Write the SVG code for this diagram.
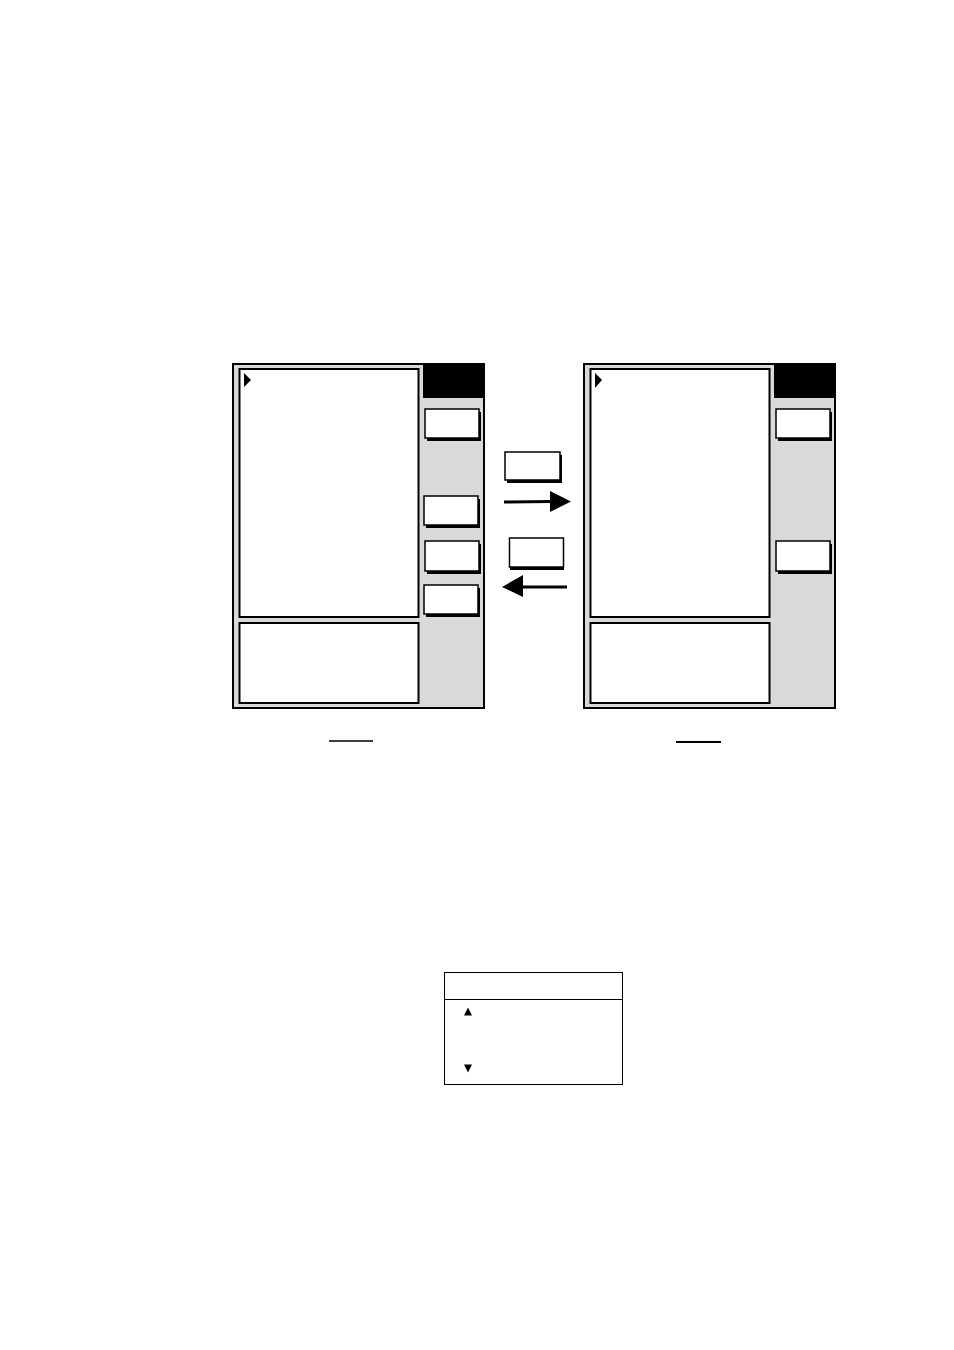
<svg xmlns="http://www.w3.org/2000/svg" width="954" height="1350" viewBox="0 0 954 1350">
<style>
.panel{fill:#d9d9d9;stroke:#000;stroke-width:2}
.win{fill:#fff;stroke:#000;stroke-width:2}
.btn{fill:#fff;stroke:#000;stroke-width:1.5}
.shadow{fill:#000}
.blk{fill:#000}
.line{stroke:#000;fill:none}
</style>
<rect width="954" height="1350" fill="#fff"/>
<g id="left-screen">
  <rect class="panel" x="233" y="364" width="251" height="344"/>
  <rect class="blk" x="423" y="364" width="61" height="34"/>
  <rect class="win" x="239.5" y="369" width="179" height="248"/>
  <rect class="win" x="239.5" y="623" width="179" height="80"/>
  <polygon class="blk" points="244,373 251,380 244,387"/>
  <g id="left-btn1"><rect class="shadow" x="427" y="412" width="54" height="29"/><rect class="btn" x="425" y="409" width="54" height="29"/></g>
  <g id="left-btn2"><rect class="shadow" x="426" y="499" width="54" height="29"/><rect class="btn" x="424" y="496" width="54" height="29"/></g>
  <g id="left-btn3"><rect class="shadow" x="427" y="544" width="54" height="30"/><rect class="btn" x="425" y="541" width="54" height="30"/></g>
  <g id="left-btn4"><rect class="shadow" x="426" y="588" width="54" height="29"/><rect class="btn" x="424" y="585" width="54" height="29"/></g>
</g>
<g id="right-screen">
  <rect class="panel" x="584" y="364" width="251" height="344"/>
  <rect class="blk" x="774" y="364" width="61" height="34"/>
  <rect class="win" x="590.5" y="369" width="179" height="248"/>
  <rect class="win" x="590.5" y="623" width="179" height="80"/>
  <polygon class="blk" points="595,373 602,380 595,388"/>
  <g id="right-btn1"><rect class="shadow" x="778" y="412" width="54" height="29"/><rect class="btn" x="776" y="409" width="54" height="29"/></g>
  <g id="right-btn2"><rect class="shadow" x="778" y="544" width="54" height="30"/><rect class="btn" x="776" y="541" width="54" height="30"/></g>
</g>
<g id="mid-btn-top"><rect class="shadow" x="507" y="455" width="55" height="28"/><rect class="btn" x="505" y="452" width="55" height="28"/></g>
<g id="mid-btn-bottom"><rect class="shadow" x="510" y="541" width="54" height="29"/><rect class="btn" x="509.5" y="538" width="54" height="29"/></g>
<g id="connectors">
  <line class="line" x1="504" y1="502" x2="552" y2="501.5" stroke-width="3"/>
  <polygon class="blk" points="550,491 571,501.5 550,512"/>
  <line class="line" x1="521" y1="587" x2="567" y2="587" stroke-width="3"/>
  <polygon class="blk" points="523,575 502,587 523,597"/>
</g>
<g id="captions">
  <line class="line" x1="329" y1="741" x2="373" y2="741" stroke-width="1.3"/>
  <line class="line" x1="676" y1="742" x2="721" y2="742" stroke-width="2"/>
</g>
<g id="scroll-box">
  <rect x="444.5" y="972.5" width="178" height="112" fill="#fff" stroke="#000" stroke-width="1"/>
  <line class="line" x1="444.5" y1="999.5" x2="622.5" y2="999.5" stroke-width="1"/>
  <polygon class="blk" points="468,1007.5 472,1015.5 464,1015.5"/>
  <polygon class="blk" points="464,1064.5 472,1064.5 468,1072.5"/>
</g>
</svg>
